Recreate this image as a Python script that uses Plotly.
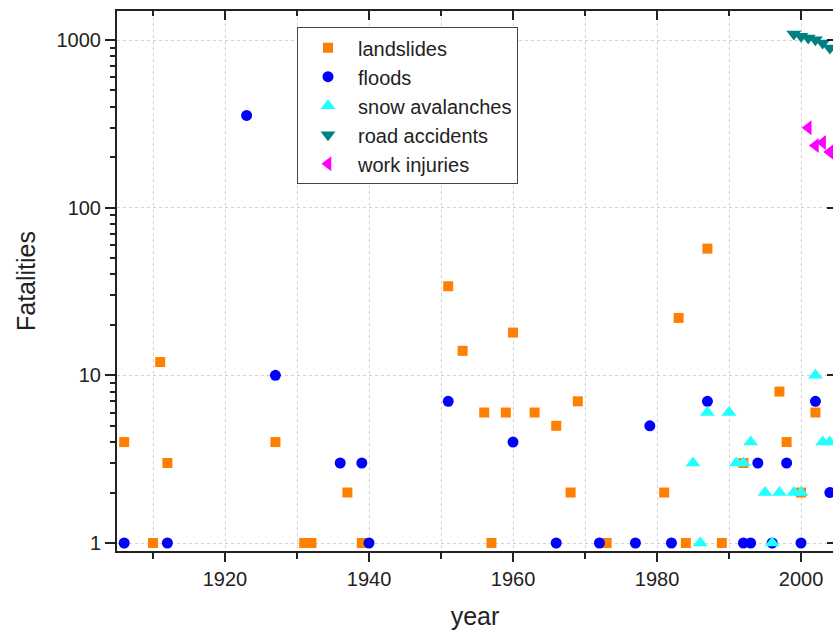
import plotly.graph_objects as go

# ---- data ----
landslide_years = [1906, 1910, 1911, 1912, 1927, 1931, 1932, 1937, 1939, 1951, 1953, 1956, 1957,
                   1959, 1960, 1963, 1966, 1968, 1969, 1973, 1981, 1983, 1984, 1987, 1989, 1992,
                   1997, 1998, 2000, 2002]
landslide_vals = [4, 1, 12, 3, 4, 1, 1, 2, 1, 34, 14, 6, 1,
                  6, 18, 6, 5, 2, 7, 1, 2, 22, 1, 57, 1, 3,
                  8, 4, 2, 6]

flood_years = [1906, 1912, 1923, 1927, 1936, 1939, 1940, 1951, 1960, 1966, 1972, 1977, 1979,
               1982, 1987, 1992, 1993, 1994, 1996, 1998, 2000, 2002, 2004]
flood_vals = [1, 1, 355, 10, 3, 3, 1, 7, 4, 1, 1, 1, 5,
              1, 7, 1, 1, 3, 1, 3, 1, 7, 2]

avalanche_years = [1985, 1986, 1987, 1990, 1991, 1992, 1993, 1995, 1996, 1997, 1999, 2000,
                   2002, 2003, 2004]
avalanche_vals = [3, 1, 6, 6, 3, 3, 4, 2, 1, 2, 2, 2, 10, 4, 4]

road_years = [1999, 2000, 2001, 2002, 2003, 2004, 2005]
road_vals = [1087, 1052, 1028, 1004, 960, 896, 836]

work_years = [2001, 2002, 2003, 2004, 2005]
work_vals = [300, 235, 245, 215, 190]

y_tickvals = [1, 10, 100, 1000]
y_ticktext = ["1", "10", "100", "1000"]
y_minor = [m * d for d in (1, 10, 100, 1000) for m in range(2, 10)]

FONT = "Liberation Sans, Arial, sans-serif"

series = [
    ("landslides", landslide_years, landslide_vals, "square", "#FF8000", 10),
    ("floods", flood_years, flood_vals, "circle", "#0000FF", 11),
    ("snow avalanches", avalanche_years, avalanche_vals, "triangle-up", "#22FFFF", 13),
    ("road accidents", road_years, road_vals, "triangle-down", "#008080", 13),
    ("work injuries", work_years, work_vals, "triangle-left", "#FF00FF", 13),
]

fig = go.Figure()
for name, xs, ys, sym, col, sz in series:
    fig.add_trace(go.Scatter(
        x=xs, y=ys, mode="markers", name=name, cliponaxis=False,
        marker=dict(symbol=sym, color=col, size=sz, line=dict(width=0)),
    ))

# empty trace to carry the mirrored top/right axes
fig.add_trace(go.Scatter(x=[], y=[], xaxis="x2", yaxis="y2", showlegend=False,
                         hoverinfo="skip", mode="markers"))

xr = [1905.0, 2004.44]
yr = [-0.0477, 3.173]
grid = dict(showgrid=True, gridcolor="#d2d2d2", griddash="dot", gridwidth=1)

fig.update_layout(
    width=833, height=630,
    margin=dict(l=117, r=0, t=11, b=79),
    paper_bgcolor="white", plot_bgcolor="white",
    font=dict(family=FONT, size=20, color="#222"),
    showlegend=True,
    legend=dict(
        x=0.2514, y=0.970, xanchor="left", yanchor="top",
        bgcolor="white", bordercolor="#444", borderwidth=1,
        font=dict(family=FONT, size=20, color="#222"),
        tracegroupgap=0, itemsizing="trace", itemwidth=50,
    ),
    xaxis=dict(
        range=xr, tickmode="linear", tick0=1900, dtick=20,
        ticks="outside", ticklen=9, tickwidth=1.5, tickcolor="#222",
        showline=True, linecolor="#222", linewidth=2, zeroline=False,
        tickfont=dict(size=20, family=FONT, color="#222"),
        title=dict(text="year", font=dict(size=25, family=FONT, color="#222"), standoff=20),
        minor=dict(tick0=1900, dtick=10, ticks="outside", ticklen=6, tickwidth=1.5,
                   tickcolor="#222", showgrid=True, gridcolor="#d2d2d2", griddash="dot"),
        **grid,
    ),
    yaxis=dict(
        type="log", range=yr, tickmode="array", tickvals=y_tickvals, ticktext=y_ticktext,
        ticks="outside", ticklen=10, tickwidth=1.5, tickcolor="#222",
        showline=True, linecolor="#222", linewidth=2, zeroline=False,
        tickfont=dict(size=20, family=FONT, color="#222"),
        title=dict(text="Fatalities", font=dict(size=25, family=FONT, color="#222"), standoff=14),
        minor=dict(tickmode="array", tickvals=y_minor, ticks="outside", ticklen=5,
                   tickwidth=1.5, tickcolor="#222", showgrid=False),
        **grid,
    ),
    xaxis2=dict(
        overlaying="x", side="top", anchor="y", range=xr, tickmode="linear", tick0=1900,
        dtick=20, ticks="inside", ticklen=9, tickwidth=1.5, tickcolor="#222",
        showticklabels=False, showline=True, linecolor="#222", linewidth=2,
        showgrid=False, zeroline=False,
        minor=dict(tick0=1900, dtick=10, ticks="inside", ticklen=5, tickwidth=1.5,
                   tickcolor="#222", showgrid=False),
    ),
    yaxis2=dict(
        overlaying="y", side="right", anchor="x", type="log", range=yr, tickmode="array",
        tickvals=y_tickvals, ticks="inside", ticklen=6, tickwidth=1.5, tickcolor="#222",
        showticklabels=False, showline=True, linecolor="#222", linewidth=2,
        showgrid=False, zeroline=False,
    ),
)

# remove the default page margin so the 833x630 figure fills the window exactly
fig.write_html(
    "out.html",
    config={"displayModeBar": False},
    post_script="document.body.style.margin='0px';document.body.style.overflow='hidden';",
)
